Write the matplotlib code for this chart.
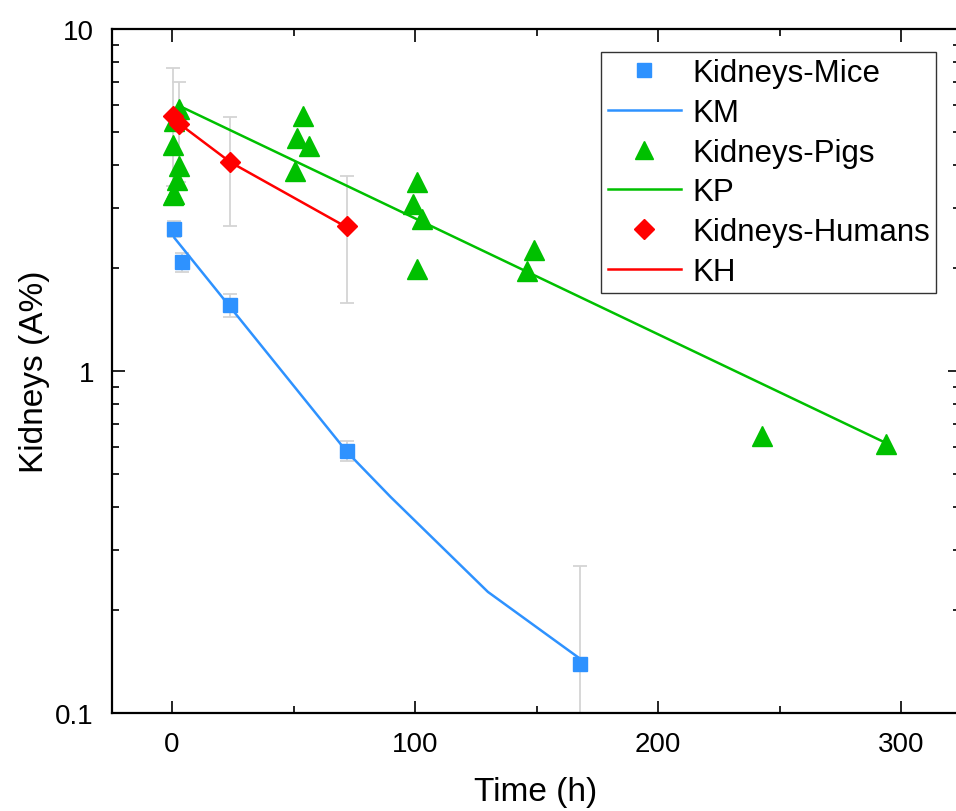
import matplotlib
matplotlib.use("Agg")
import matplotlib.pyplot as plt
from matplotlib.ticker import LogLocator, FixedLocator, MultipleLocator, FuncFormatter, NullFormatter
from matplotlib.lines import Line2D

plt.rcParams['font.family'] = ['Liberation Sans', 'DejaVu Sans']

# ---- data ----
mice_t = [1, 4, 24, 72, 168]
mice_v = [2.60, 2.08, 1.56, 0.584, 0.139]
mice_err = [0.14, 0.13, 0.12, 0.04, 0.13]

km_t = [1, 72, 90, 130, 168]
km_v = [2.45, 0.58, 0.428, 0.226, 0.144]

pigs_t = [3, 1, 0.5, 3, 2, 0.5, 1,
          54, 51.4, 56.4, 50.6,
          101, 99, 103, 101, 149, 146, 243, 294]
pigs_v = [5.83, 5.38, 4.58, 3.98, 3.62, 3.27, 3.30,
          5.57, 4.80, 4.55, 3.84,
          3.57, 3.08, 2.78, 1.99, 2.26, 1.96, 0.646, 0.61]

kp_t = [3, 294]
kp_v = [5.96, 0.615]

hum_t = [0.5, 3, 24, 72]
hum_v = [5.57, 5.28, 4.09, 2.65]
hum_err = [2.1, 1.7, 1.44, 1.07]

kh_t = [0.5, 24, 72]
kh_v = [5.45, 4.08, 2.63]

xticks = [0, 100, 200, 300]
yticks = [0.1, 1, 10]

# ---- colors ----
c_mice = '#2E92FF'
c_pig = '#00C000'
c_hum = '#FF0000'
c_err = '#D4D4D4'

fig = plt.figure(figsize=(9.56, 8.12), dpi=100)
ax = fig.add_axes([112/956, 98/812, 848/956, 684/812])

ax.set_yscale('log')
ax.set_ylim(0.1, 10)
x0 = (112 - 172) / 2.43
x1 = (960 - 172) / 2.43
ax.set_xlim(x0, x1)

# error bars
ax.errorbar(mice_t, mice_v, yerr=mice_err, fmt='none', ecolor=c_err, elinewidth=1.3,
            capsize=5, capthick=1.3, zorder=1)
ax.errorbar(hum_t, hum_v, yerr=hum_err, fmt='none', ecolor=c_err, elinewidth=1.3,
            capsize=5, capthick=1.3, zorder=1)

ax.plot(mice_t, mice_v, ls='none', marker='s', ms=10, color=c_mice, mec=c_mice, zorder=3)
ax.plot(km_t, km_v, color=c_mice, lw=1.8, zorder=2)
ax.plot(pigs_t, pigs_v, ls='none', marker='^', ms=14, color=c_pig, mec=c_pig, zorder=3)
ax.plot(kp_t, kp_v, color=c_pig, lw=1.8, zorder=2)
ax.plot(hum_t, hum_v, ls='none', marker='D', ms=10, color=c_hum, mec=c_hum, zorder=4)
ax.plot(kh_t, kh_v, color=c_hum, lw=1.8, zorder=2)

# ticks
ax.xaxis.set_major_locator(FixedLocator(xticks))
ax.xaxis.set_minor_locator(MultipleLocator(50))
ax.yaxis.set_major_locator(FixedLocator(yticks))
ax.yaxis.set_minor_locator(LogLocator(base=10, subs=range(2, 10)))
ax.yaxis.set_major_formatter(FuncFormatter(lambda v, p: f"{v:g}"))
ax.yaxis.set_minor_formatter(NullFormatter())
ax.tick_params(which='both', direction='in', top=True, right=True, width=1.2,
               labelsize=20, color='black')
ax.tick_params(which='major', length=9, pad=13)
ax.tick_params(which='minor', length=5)
for s in ax.spines.values():
    s.set_linewidth(1.6)

ax.set_xlabel('Time (h)', fontsize=24, labelpad=14)
ax.set_ylabel('Kidneys (A%)', fontsize=24, labelpad=4)

handles = [
    Line2D([], [], ls='none', marker='s', ms=10, color=c_mice),
    Line2D([], [], color=c_mice, lw=1.8),
    Line2D([], [], ls='none', marker='^', ms=13, color=c_pig),
    Line2D([], [], color=c_pig, lw=1.8),
    Line2D([], [], ls='none', marker='D', ms=10, color=c_hum),
    Line2D([], [], color=c_hum, lw=1.8),
]
labels = ['Kidneys-Mice', 'KM', 'Kidneys-Pigs', 'KP', 'Kidneys-Humans', 'KH']
leg = ax.legend(handles, labels, loc='upper right',
                fontsize=22.5, frameon=True, fancybox=False,
                framealpha=1, edgecolor='#333333', borderpad=0.2, labelspacing=0.31,
                handlelength=2.35, handletextpad=0.35, borderaxespad=0)
leg.get_frame().set_linewidth(1.0)
leg.set_bbox_to_anchor(((936 - 112) / 848, 1 - 23 / 684), transform=ax.transAxes)

fig.savefig('out.png', dpi=100)
